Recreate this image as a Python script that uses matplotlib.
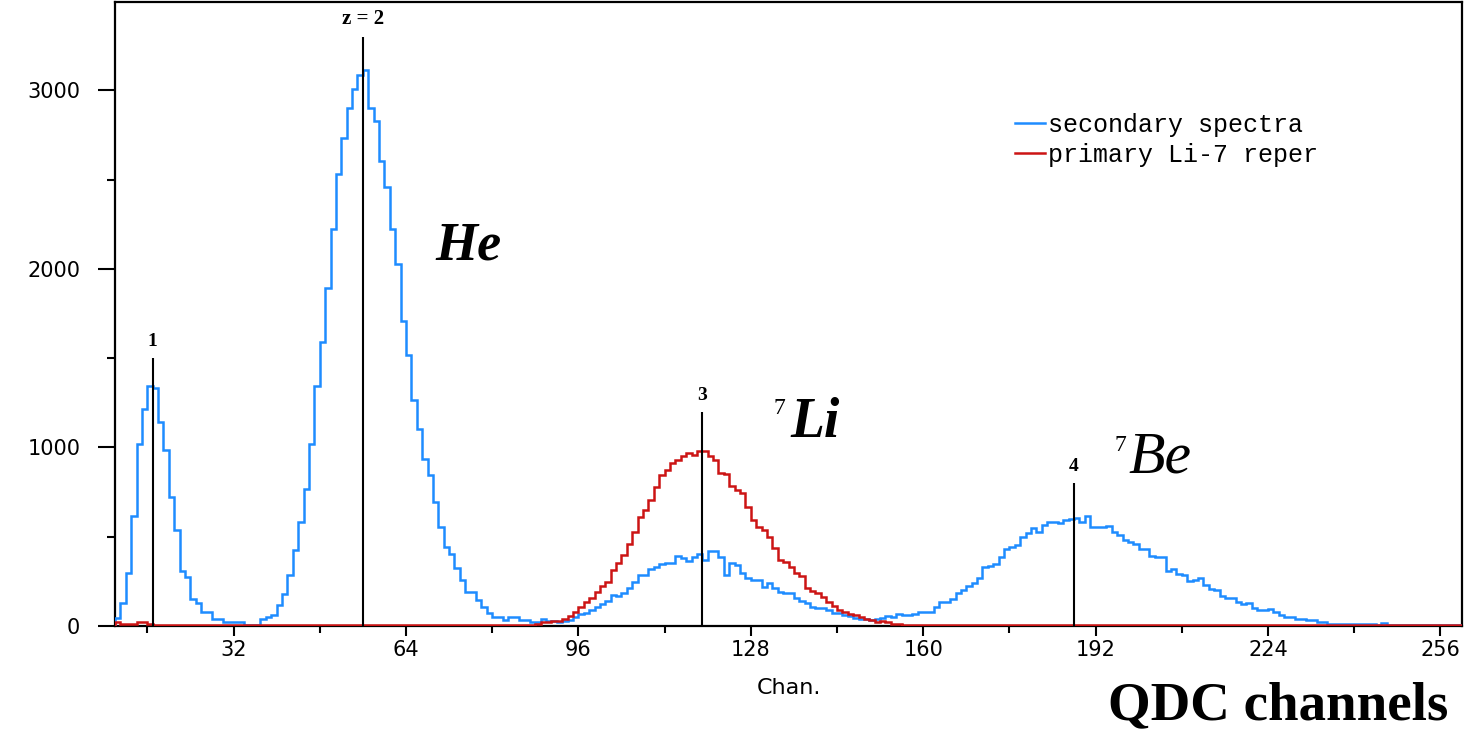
import numpy as np
import matplotlib
matplotlib.use("Agg")
import matplotlib.pyplot as plt

# ---------------- data ----------------
first_channel = 10
last_channel = 260

# secondary spectra (blue), one value per QDC channel 10..259
secondary_counts = [
    43, 127, 299, 617, 1021, 1215, 1346, 1333, 1140, 983,      # 10-19
    722, 535, 308, 273, 150, 127, 80, 80, 37, 37,              # 20-29
    22, 22, 22, 22, 5, 5, 5, 37, 49, 62,                       # 30-39
    115, 177, 285, 426, 582, 769, 1018, 1344, 1589, 1891,      # 40-49
    2223, 2534, 2732, 2904, 3006, 3085, 3112, 2904, 2826, 2607,  # 50-59
    2458, 2223, 2026, 1708, 1517, 1268, 1101, 935, 846, 692,   # 60-69
    555, 440, 404, 325, 258, 189, 189, 146, 108, 71,           # 70-79
    52, 52, 34, 49, 49, 34, 34, 24, 24, 37,                    # 80-89
    30, 30, 24, 28, 36, 49, 68, 75, 90, 104,                   # 90-99
    122, 140, 174, 170, 185, 215, 245, 286, 286, 318,          # 100-109
    329, 348, 355, 355, 393, 380, 366, 389, 404, 372,          # 110-119
    422, 422, 385, 286, 352, 342, 296, 267, 258, 258,          # 120-129
    220, 243, 211, 192, 183, 183, 155, 142, 131, 108,          # 130-139
    99, 99, 90, 71, 71, 62, 55, 45, 42, 38,                    # 140-149
    36, 40, 45, 55, 48, 65, 61, 61, 65, 80,                    # 150-159
    80, 80, 109, 137, 137, 150, 185, 200, 223, 240,            # 160-169
    270, 328, 337, 350, 385, 432, 440, 451, 499, 520,          # 170-179
    547, 528, 566, 580, 585, 575, 594, 600, 604, 585,          # 180-189
    617, 556, 555, 552, 560, 528, 509, 480, 470, 461,          # 190-199
    432, 432, 394, 385, 385, 309, 318, 290, 286, 251,          # 200-209
    260, 270, 232, 210, 200, 166, 156, 156, 133, 122,          # 210-219
    128, 100, 90, 90, 95, 80, 60, 51, 51, 42,                  # 220-229
    42, 32, 32, 25, 23, 13, 13, 13, 13, 13,                    # 230-239
    13, 13, 13, 13, 5, 17, 6, 6, 6, 6,                         # 240-249
    6, 6, 6, 6, 6, 6, 6, 6, 6, 6,                              # 250-259
]

# primary Li-7 reper (red), one value per QDC channel 10..259
primary_counts = [
    24, 10, 10, 10, 24, 24, 10, 8, 8, 8,                       # 10-19
    8, 8, 8, 8, 8, 8, 8, 8, 8, 8,                              # 20-29
    6, 6, 6, 6, 6, 6, 6, 6, 6, 6,                              # 30-39
    6, 6, 6, 6, 6, 6, 6, 6, 6, 6,                              # 40-49
    6, 6, 6, 6, 6, 6, 6, 6, 6, 6,                              # 50-59
    6, 6, 6, 6, 6, 6, 6, 6, 6, 6,                              # 60-69
    6, 6, 6, 6, 6, 6, 6, 6, 6, 6,                              # 70-79
    8, 8, 8, 8, 8, 8, 8, 8, 12, 20,                            # 80-89
    24, 30, 30, 40, 55, 80, 108, 136, 158, 190,                # 90-99
    224, 249, 314, 352, 398, 459, 529, 610, 651, 707,          # 100-109
    778, 847, 876, 912, 931, 953, 969, 959, 978, 978,          # 110-119
    950, 931, 856, 852, 785, 759, 744, 666, 591, 557,          # 120-129
    538, 501, 436, 370, 361, 333, 296, 280, 211, 198,          # 130-139
    183, 161, 136, 112, 90, 80, 70, 60, 50, 42,                # 140-149
    35, 24, 30, 20, 10, 10, 8, 5, 5, 5,                        # 150-159
] + [4] * 100                                                  # 160-259

series_labels = ["secondary spectra", "primary Li-7 reper"]

marker_channels = [17, 56, 119, 188]
marker_heights = [1500, 3300, 1200, 800]
marker_labels = ["1", "z = 2", "3", "4"]

x_major_ticks = [32, 64, 96, 128, 160, 192, 224, 256]
x_minor_ticks = [16, 48, 80, 112, 144, 176, 208, 240]
y_major_ticks = [0, 1000, 2000, 3000]
y_minor_ticks = [500, 1500, 2500]

# ---------------- style ----------------
BLUE = "#1e8cff"
RED = "#cc1414"

W, H = 1466, 729
fig = plt.figure(figsize=(W / 100, H / 100), dpi=100)
ax = fig.add_axes([115 / W, 1 - 626 / H, (1462 - 115) / W, (626 - 2) / H])

edges = np.arange(first_channel, last_channel + 1)
ax.stairs(secondary_counts, edges, color=BLUE, lw=1.8, baseline=0,
          label=series_labels[0], zorder=3)
ax.stairs(primary_counts, edges, color=RED, lw=1.8, baseline=0,
          label=series_labels[1], zorder=3.2)

ax.vlines(marker_channels, 0, marker_heights, color="black", lw=1.5, zorder=4)
for ch, h, lab in zip(marker_channels, marker_heights, marker_labels):
    ax.text(ch, h + 45, lab, ha="center", va="bottom",
            family="Liberation Serif", fontweight="bold",
            fontsize=15 if lab.startswith("z") else 14)

ax.set_xlim(first_channel, last_channel)
ax.set_ylim(0, 3495)

ax.set_xticks(x_major_ticks)
ax.set_xticks(x_minor_ticks, minor=True)
ax.set_yticks(y_major_ticks)
ax.set_yticks(y_minor_ticks, minor=True)
ax.set_xticklabels([str(t) for t in x_major_ticks], family="DejaVu Sans", fontsize=15)
ax.set_yticklabels([str(t) for t in y_major_ticks], family="DejaVu Sans", fontsize=15)

ax.tick_params(axis="y", which="major", direction="out", length=12, width=1.5, pad=13)
ax.tick_params(axis="y", which="minor", direction="out", length=6, width=1.5)
ax.tick_params(axis="x", which="major", direction="out", length=7, width=1.5, pad=3)
ax.tick_params(axis="x", which="minor", direction="out", length=5, width=1.5)

for s in ax.spines.values():
    s.set_linewidth(1.6)
    s.set_color("black")

ax.set_xlabel("Chan.", family="DejaVu Sans", fontsize=16, labelpad=13)

leg = ax.legend(loc="upper left", bbox_to_anchor=(0.668, 0.822), frameon=False,
                prop={"family": "Liberation Mono", "size": 18},
                handlelength=1.2, handletextpad=0.12, labelspacing=0.22,
                borderpad=0, borderaxespad=0)

# element names
ax.text(69.5, 2053, "He", family="Liberation Serif", fontweight="bold",
        fontstyle="italic", fontsize=39, ha="left", va="baseline")
ax.text(132.3, 1185, "7", family="Liberation Serif", fontsize=17,
        ha="left", va="baseline")
ax.text(135.3, 1060, "Li", family="Liberation Serif", fontweight="bold",
        fontstyle="italic", fontsize=40, ha="left", va="baseline")
ax.text(195.5, 980, "7", family="Liberation Serif", fontsize=17,
        ha="left", va="baseline")
ax.text(198.0, 862, "Be", family="Liberation Serif",
        fontstyle="italic", fontsize=43, ha="left", va="baseline")

fig.text(1108 / W, 1 - 719 / H, "QDC channels", family="Liberation Serif",
         fontweight="bold", fontsize=39.5, ha="left", va="baseline")

fig.savefig("out.png", dpi=100, facecolor="white")
